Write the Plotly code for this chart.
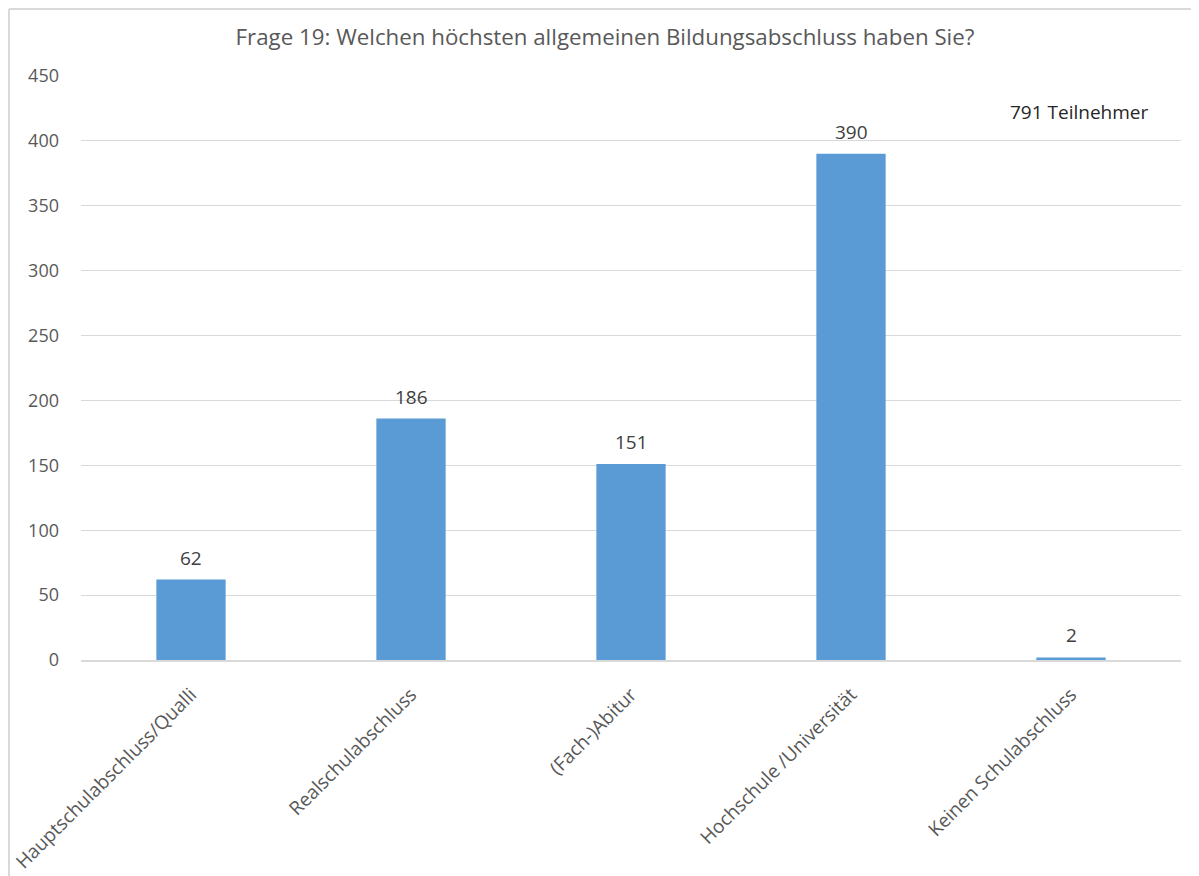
import plotly.graph_objects as go

categories = ["Hauptschulabschluss/Qualli", "Realschulabschluss", "(Fach-)Abitur",
              "Hochschule /Universität", "Keinen Schulabschluss"]
counts = [62, 186, 151, 390, 2]
y_ticks = [0, 50, 100, 150, 200, 250, 300, 350, 400, 450]

# page adds an 8px body margin, so the figure is a bit smaller and shifted
OFF = 8
W, H = 1199 - OFF, 876 - OFF
L, R, T, B = 81 - OFF, 18, 76 - OFF, 216
pw, ph = W - L - R, H - T - B

def px_x(x):
    return (x - OFF - L) / pw

def px_y(y):
    return (H - B - (y - OFF)) / ph

fig = go.Figure()
fig.add_trace(go.Bar(
    x=categories, y=counts, width=0.315,
    marker=dict(color="#5B9BD5", line=dict(width=0)),
))

for c, v in zip(categories, counts):
    fig.add_annotation(x=c, y=v, text=str(v), showarrow=False, yshift=22,
                       font=dict(size=19, color="#404040"))

fig.update_layout(
    width=W, height=H,
    margin=dict(l=L, r=R, t=T, b=B, autoexpand=False),
    paper_bgcolor="white", plot_bgcolor="white",
    font=dict(family="Open Sans, sans-serif", color="#595959", size=18),
    title=dict(text="Frage 19: Welchen höchsten allgemeinen Bildungsabschluss haben Sie?",
               xref="container", x=(605 - OFF) / W, xanchor="center",
               y=1 - (37 - OFF) / H, yanchor="middle",
               font=dict(size=22.3, color="#595959")),
    showlegend=False,
)
fig.update_yaxes(range=[0, 450], tickvals=y_ticks, showgrid=True, gridcolor="#D9D9D9",
                 gridwidth=1, zeroline=False, showline=False, ticks="", ticklabelstandoff=21,
                 automargin=False, tickfont=dict(size=18, color="#595959"))
fig.update_xaxes(showgrid=False, tickangle=-45, showline=True, linecolor="#D9D9D9",
                 linewidth=2, ticks="", ticklabelstandoff=14, automargin=False,
                 tickfont=dict(size=19, color="#595959"))

fig.add_annotation(text="791 Teilnehmer", xref="paper", yref="paper",
                   x=px_x(1079), y=px_y(112), xanchor="center", yanchor="middle",
                   showarrow=False, font=dict(size=19, color="#262626"))

# chart frame
fig.add_shape(type="line", xref="paper", yref="paper", x0=px_x(9), x1=px_x(9),
              y0=px_y(9), y1=px_y(900), line=dict(color="#D9D9D9", width=2))
fig.add_shape(type="line", xref="paper", yref="paper", x0=px_x(9), x1=px_x(1220),
              y0=px_y(9), y1=px_y(9), line=dict(color="#D9D9D9", width=2))

fig.write_html("out.html")
